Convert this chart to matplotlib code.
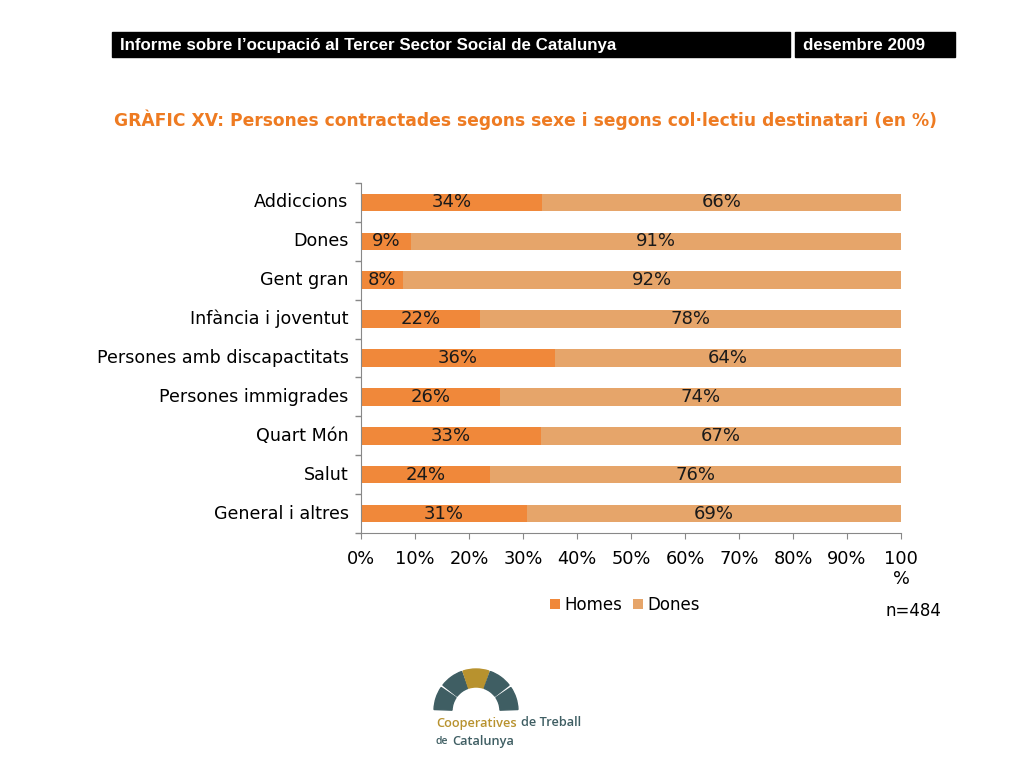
import matplotlib
matplotlib.use("Agg")
from matplotlib import pyplot as plt
from matplotlib.patches import Rectangle, Wedge
import numpy as np

# dades
colectius = ["Addiccions", "Dones", "Gent gran", "Infància i joventut",
             "Persones amb discapactitats", "Persones immigrades", "Quart Món",
             "Salut", "General i altres"]
homes = [33.5, 9.2, 7.8, 22.0, 35.9, 25.7, 33.3, 23.9, 30.7]
dones = [66.5, 90.8, 92.2, 78.0, 64.1, 74.3, 66.7, 76.1, 69.3]
xticks = [0, 10, 20, 30, 40, 50, 60, 70, 80, 90, 100]
xtick_labels = ["0%", "10%", "20%", "30%", "40%", "50%", "60%", "70%", "80%", "90%", "100\n%"]

col_homes = "#F0883A"
col_dones = "#E6A56A"
W, H = 1024, 768


def fx(x):
    return x / W


def fy(y):
    return 1 - y / H


fig = plt.figure(figsize=(10.24, 7.68), dpi=100)

# capçalera
fig.patches.append(Rectangle((fx(112), fy(57)), fx(790) - fx(112), fy(32) - fy(57),
                             transform=fig.transFigure, color="black"))
fig.patches.append(Rectangle((fx(795), fy(57)), fx(955) - fx(795), fy(32) - fy(57),
                             transform=fig.transFigure, color="black"))
hfont = ["Liberation Sans", "DejaVu Sans"]
fig.text(fx(120), fy(45.5), "Informe sobre l’ocupació al Tercer Sector Social de Catalunya",
         color="white", fontsize=12.2, fontweight="bold", family=hfont, va="center")
fig.text(fx(803), fy(45.5), "desembre 2009", color="white", fontsize=12.2,
         fontweight="bold", family=hfont, va="center")

fig.text(fx(525), fy(120), "GRÀFIC XV: Persones contractades segons sexe i segons col·lectiu destinatari (en %)",
         color="#EE7B22", fontsize=12.3, fontweight="bold", ha="center", va="center")

# gràfic
ax = fig.add_axes([fx(361), fy(533), fx(901) - fx(361), fy(183) - fy(533)])
y = np.arange(len(colectius))
ax.barh(y, homes, height=0.45, color=col_homes, label="Homes")
ax.barh(y, dones, left=homes, height=0.45, color=col_dones, label="Dones")

for i in range(len(colectius)):
    ax.text(homes[i] / 2, y[i], f"{homes[i]:.0f}%", ha="center", va="center",
            fontsize=13, color="#1a1a1a")
    ax.text(homes[i] + dones[i] / 2, y[i], f"{dones[i]:.0f}%", ha="center", va="center",
            fontsize=13, color="#1a1a1a")

ax.set_xlim(0, 100)
ax.set_ylim(len(colectius) - 0.5, -0.5)
ax.set_yticks(y)
ax.set_yticklabels(colectius, fontsize=12.6, va="center")
ax.set_yticks(np.arange(-0.5, len(colectius), 1), minor=True)
ax.tick_params(axis="y", which="major", length=0, pad=9)
ax.tick_params(axis="y", which="minor", length=4, color="#888888", width=1)
ax.set_xticks(xticks)
ax.set_xticklabels(xtick_labels, fontsize=12.8)
ax.tick_params(axis="x", length=4, color="#888888", pad=8)
for s in ["top", "right"]:
    ax.spines[s].set_visible(False)
for s in ["left", "bottom"]:
    ax.spines[s].set_color("#888888")

fig.legend(loc="center", bbox_to_anchor=(fx(625), fy(605)), ncol=2, frameon=False,
           fontsize=12, handlelength=0.6, handleheight=0.6, handletextpad=0.3,
           columnspacing=0.6)
fig.text(fx(913), fy(611), "n=484", fontsize=12, ha="center", va="center")

# logo
lax = fig.add_axes([fx(430), fy(716), fx(525) - fx(430), fy(664) - fy(716)])
lax.set_xlim(430, 525)
lax.set_ylim(716, 664)
lax.set_aspect("equal")
lax.axis("off")
cx, cy = 476, 711
teal = "#3F5E63"
gold = "#B8922E"
segs = [(146, 178, teal), (110, 142, teal), (72, 108, gold), (38, 70, teal), (2, 34, teal)]
for a1, a2, c in segs:
    lax.add_patch(Wedge((cx, cy), 42, -a2, -a1, width=18, color=c))

lfont = ["Open Sans", "DejaVu Sans"]
fig.text(fx(436), fy(723), "Cooperatives", color="#B8922E", fontsize=9.2, family=lfont,
         fontweight="semibold", va="center")
fig.text(fx(521), fy(723), "de Treball", color="#3F5E63", fontsize=9.2, family=lfont,
         fontweight="semibold", va="center")
fig.text(fx(436), fy(741), "de", color="#3F5E63", fontsize=7.5, family=lfont,
         fontweight="semibold", va="center")
fig.text(fx(452), fy(741), "Catalunya", color="#3F5E63", fontsize=9.2, family=lfont,
         fontweight="semibold", va="center")

fig.savefig("out.png", dpi=100)
